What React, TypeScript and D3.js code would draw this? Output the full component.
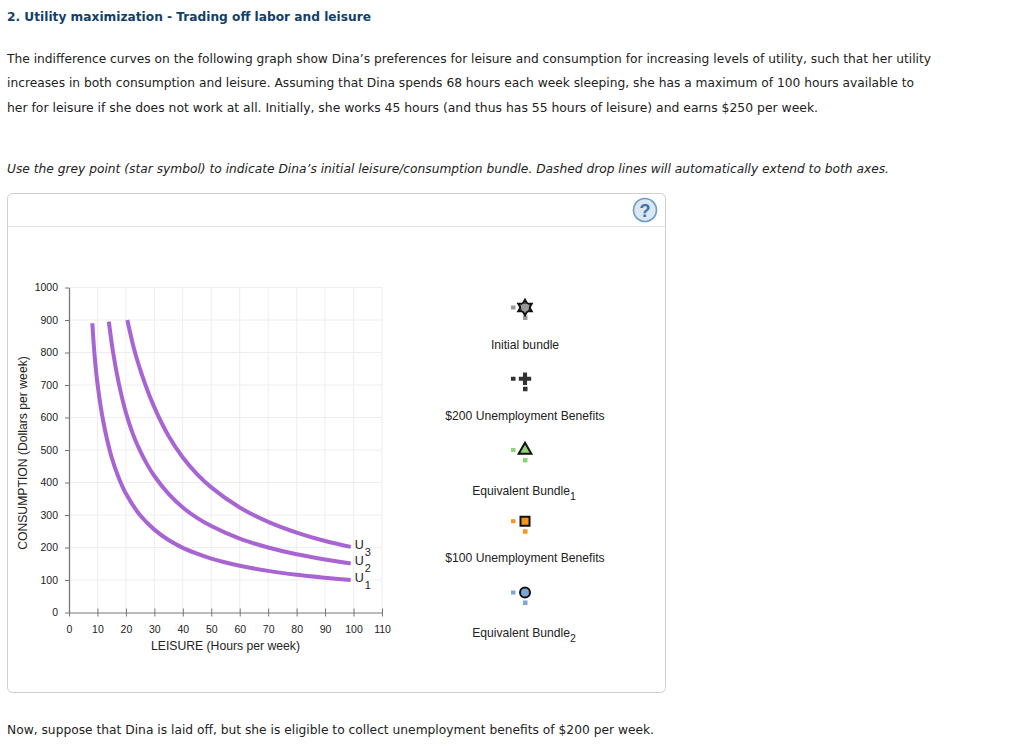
import { useEffect, useRef } from 'react'
import * as d3 from 'd3'

const leisureTicks = [0, 10, 20, 30, 40, 50, 60, 70, 80, 90, 100, 110]
const consumptionTicks = [0, 100, 200, 300, 400, 500, 600, 700, 800, 900, 1000]

const u1Leisure = [8.2, 9, 10, 12, 15, 17.5, 20, 25, 30, 35, 40, 45, 50, 60, 70, 80, 90, 99]
const u1Consumption = [890, 790, 705, 590, 477, 414, 366, 299, 255, 223, 199, 181, 166, 144, 128, 116, 107, 100]
const u2Leisure = [14, 15.5, 17.5, 20, 22.5, 25, 27.5, 30, 35, 40, 45, 50, 60, 70, 80, 90, 99]
const u2Consumption = [895, 800, 705, 615, 548, 497, 455, 420, 365, 323, 291, 266, 227, 200, 179, 163, 151]
const u3Leisure = [20.5, 23.2, 26.8, 30, 35, 40, 45, 50, 60, 70, 80, 90, 99]
const u3Consumption = [900, 800, 702, 631, 543, 477, 426, 385, 323, 279, 246, 220, 202]

const curves = [
  { name: 'U', sub: '1', xs: u1Leisure, ys: u1Consumption },
  { name: 'U', sub: '2', xs: u2Leisure, ys: u2Consumption },
  { name: 'U', sub: '3', xs: u3Leisure, ys: u3Consumption },
]

const legendLabels = ['Initial bundle', '$200 Unemployment Benefits', 'Equivalent Bundle', '$100 Unemployment Benefits', 'Equivalent Bundle']
const legendSubs = ['', '', '1', '', '2']
const legendKinds = ['star', 'cross', 'triangle', 'square', 'circle']
const legendColors = ['#999999', '#333333', '#8ad672', '#f7941d', '#7ba7d4']

const VERDANA = '"DejaVu Sans", Verdana, sans-serif'
const ARIAL = '"Liberation Sans", Arial, sans-serif'

const bodyLines = [
  { y: 63, end: 931, text: 'The indifference curves on the following graph show Dina’s preferences for leisure and consumption for increasing levels of utility, such that her utility' },
  { y: 87, end: 914, text: 'increases in both consumption and leisure. Assuming that Dina spends 68 hours each week sleeping, she has a maximum of 100 hours available to' },
  { y: 112, end: 818, text: 'her for leisure if she does not work at all. Initially, she works 45 hours (and thus has 55 hours of leisure) and earns $250 per week.' },
]

export default function App() {
  const svgRef = useRef<SVGSVGElement>(null)

  useEffect(() => {
    if (!svgRef.current) return
    const svg = d3.select(svgRef.current)
    svg.selectAll('*').remove()

    // Page text
    svg.append('text')
      .attr('x', 7).attr('y', 21)
      .attr('font-family', VERDANA).attr('font-size', 13).attr('font-weight', 700)
      .attr('fill', '#0f3f6b')
      .attr('textLength', 364).attr('lengthAdjust', 'spacingAndGlyphs')
      .text('2. Utility maximization - Trading off labor and leisure')

    bodyLines.forEach((l) => {
      svg.append('text')
        .attr('x', 7).attr('y', l.y)
        .attr('font-family', VERDANA).attr('font-size', 13).attr('fill', '#222')
        .attr('textLength', l.end - 7).attr('lengthAdjust', 'spacingAndGlyphs')
        .text(l.text)
    })

    svg.append('text')
      .attr('x', 7).attr('y', 173)
      .attr('font-family', VERDANA).attr('font-size', 13).attr('font-style', 'italic').attr('fill', '#222')
      .attr('textLength', 882).attr('lengthAdjust', 'spacingAndGlyphs')
      .text('Use the grey point (star symbol) to indicate Dina’s initial leisure/consumption bundle. Dashed drop lines will automatically extend to both axes.')

    svg.append('text')
      .attr('x', 7).attr('y', 734)
      .attr('font-family', VERDANA).attr('font-size', 13).attr('fill', '#222')
      .attr('textLength', 647).attr('lengthAdjust', 'spacingAndGlyphs')
      .text('Now, suppose that Dina is laid off, but she is eligible to collect unemployment benefits of $200 per week.')

    // Panel
    svg.append('rect')
      .attr('x', 7.5).attr('y', 193.5).attr('width', 658).attr('height', 499).attr('rx', 5)
      .attr('fill', '#fff').attr('stroke', '#cfcfcf')
    svg.append('line')
      .attr('x1', 8).attr('x2', 665).attr('y1', 226.5).attr('y2', 226.5)
      .attr('stroke', '#e2e2e2')

    // Help icon
    const help = svg.append('g').attr('transform', 'translate(645,210)')
    help.append('circle').attr('r', 11.5).attr('fill', '#dbe6f0').attr('stroke', '#6f9cc4').attr('stroke-width', 1.6)
    help.append('text')
      .attr('y', 6.5).attr('text-anchor', 'middle')
      .attr('font-family', ARIAL).attr('font-size', 18).attr('font-weight', 700).attr('fill', '#3b73a8')
      .text('?')

    // Chart
    const x = d3.scaleLinear().domain([0, 110]).range([69, 382])
    const y = d3.scaleLinear().domain([0, 1000]).range([612.5, 287.5])

    const grid = svg.append('g').attr('stroke', '#eeeeee')
    leisureTicks.slice(1).forEach((t) => {
      grid.append('line').attr('x1', x(t)).attr('x2', x(t)).attr('y1', y(1000)).attr('y2', y(0))
    })
    consumptionTicks.slice(1).forEach((t) => {
      grid.append('line').attr('x1', x(0)).attr('x2', x(110)).attr('y1', y(t)).attr('y2', y(t))
    })

    const xAxis = svg.append('g')
      .attr('transform', `translate(0,${y(0)})`)
      .call(d3.axisBottom(x).tickValues(leisureTicks).tickSize(4).tickSizeOuter(0).tickPadding(9))
    xAxis.selectAll('.tick line').attr('y1', -4).attr('y2', 4)
    const yAxis = svg.append('g')
      .attr('transform', `translate(${x(0)},0)`)
      .call(d3.axisLeft(y).tickValues(consumptionTicks).tickFormat(d3.format('d')).tickSize(4).tickSizeOuter(0).tickPadding(6))
    yAxis.selectAll('.tick text').attr('dx', -1)

    ;[xAxis, yAxis].forEach((a) => {
      a.selectAll('path, line').attr('stroke', '#777').attr('stroke-width', 1)
      a.selectAll('text').attr('font-family', ARIAL).attr('font-size', 10.5).attr('fill', '#222')
    })
    yAxis.select('.domain').attr('stroke-width', 1.3)

    svg.append('text')
      .attr('x', 225.5).attr('y', 650).attr('text-anchor', 'middle')
      .attr('font-family', ARIAL).attr('font-size', 12.2).attr('fill', '#222')
      .text('LEISURE (Hours per week)')
    svg.append('text')
      .attr('transform', 'translate(27,453) rotate(-90)').attr('text-anchor', 'middle')
      .attr('font-family', ARIAL).attr('font-size', 12.2).attr('fill', '#222')
      .text('CONSUMPTION (Dollars per week)')

    // Indifference curves
    const line = d3.line<[number, number]>()
      .x((d) => x(d[0]))
      .y((d) => y(d[1]))
      .curve(d3.curveCatmullRom.alpha(0.5))

    curves.forEach((c) => {
      const pts = c.xs.map((v, i) => [v, c.ys[i]] as [number, number])
      svg.append('path')
        .attr('d', line(pts))
        .attr('fill', 'none')
        .attr('stroke', '#a864d3')
        .attr('stroke-width', 4)
      const last = pts[pts.length - 1]
      const label = svg.append('text')
        .attr('x', x(last[0]) + 4).attr('y', y(last[1]) + 2)
        .attr('font-family', ARIAL).attr('font-size', 12.5).attr('fill', '#222')
      label.append('tspan').text(c.name)
      label.append('tspan').attr('dx', 1).attr('dy', 7).attr('font-size', 11).text(c.sub)
    })

    // Legend palette
    const legendX = 525
    const legendY = d3.scaleLinear().domain([0, 4]).range([307.5, 592.5])
    const labelBaselines = [348.5, 419.5, 495, 561.5, 637]
    const symbolFor: Record<string, d3.SymbolType> = {
      cross: d3.symbolCross,
      triangle: d3.symbolTriangle,
      square: d3.symbolSquare,
      circle: d3.symbolCircle,
    }

    legendLabels.forEach((text, i) => {
      const cy = legendY(i)
      const color = legendColors[i]
      const kind = legendKinds[i]
      const g = svg.append('g').attr('transform', `translate(${legendX},${cy})`)

      // small drop-line stubs
      g.append('rect').attr('x', -14).attr('y', -2).attr('width', 4.5).attr('height', 4).attr('fill', color)
      g.append('rect').attr('x', -2).attr('y', 8).attr('width', 4.5).attr('height', 4.5).attr('fill', color)

      if (kind === 'star') {
        const tri = d3.symbol().type(d3.symbolTriangle).size(78)()
        g.append('path').attr('d', tri).attr('fill', color).attr('stroke', '#111').attr('stroke-width', 2)
        g.append('path').attr('d', tri).attr('transform', 'rotate(180)').attr('fill', color).attr('stroke', '#111').attr('stroke-width', 2)
        g.append('circle').attr('r', 4).attr('fill', color)
      } else if (kind === 'cross') {
        g.append('path').attr('d', d3.symbol().type(symbolFor.cross).size(85)()).attr('fill', color)
      } else {
        const size = kind === 'triangle' ? 70 : kind === 'square' ? 81 : 78
        g.append('path')
          .attr('d', d3.symbol().type(symbolFor[kind]).size(size)())
          .attr('fill', color).attr('stroke', '#111').attr('stroke-width', 2)
      }

      const label = svg.append('text')
        .attr('x', legendSubs[i] ? legendX - 1 : legendX).attr('y', labelBaselines[i]).attr('text-anchor', 'middle')
        .attr('font-family', ARIAL).attr('font-size', 12.15).attr('fill', '#222')
      label.append('tspan').text(text)
      if (legendSubs[i]) label.append('tspan').attr('dy', 5).attr('font-size', 10.5).text(legendSubs[i])
    })
  }, [])

  return (
    <svg
      ref={svgRef}
      width={1024}
      height={754}
      style={{ position: 'absolute', left: 0, top: 0, background: '#fff' }}
    />
  )
}
